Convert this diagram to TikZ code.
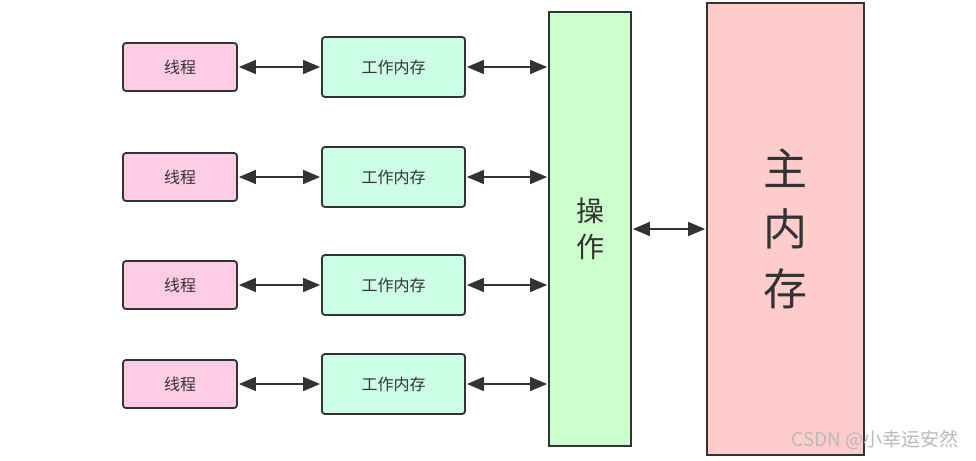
\documentclass[tikz,border=0pt]{standalone}
\usepackage{fontspec}
\setmainfont{Noto Sans CJK SC}
\usetikzlibrary{arrows.meta}
\definecolor{strk}{HTML}{333333}
\definecolor{thr}{HTML}{FFCCE6}
\definecolor{wrk}{HTML}{CCFFE6}
\definecolor{opc}{HTML}{CCFFCC}
\definecolor{mem}{HTML}{FFCCCC}
\begin{document}
\begin{tikzpicture}[x=1pt,y=-1pt,
  box/.style={draw=strk,line width=1.8pt,text=strk,inner sep=0pt},
  thread/.style={box,fill=thr,rounded corners=3pt,minimum width=114pt,minimum height=48pt,font=\fontsize{16}{18}\selectfont},
  work/.style={box,fill=wrk,rounded corners=3pt,minimum width=143pt,minimum height=60pt,font=\fontsize{16}{18}\selectfont},
  conn/.style={line width=1.6pt,draw=strk,{Triangle[length=17pt,width=14pt]}-{Triangle[length=17pt,width=14pt]},shorten <=1pt,shorten >=1pt}]
\useasboundingbox (0,0) rectangle (976,460);
\foreach \i/\y in {1/67,2/177,3/285,4/384}{
  \node[thread] (t\i) at (180,\y) {线程};
  \node[work] (w\i) at (393.5,\y) {工作内存};
}
\node[box,fill=opc,minimum width=82pt,minimum height=434pt,align=center,font=\fontsize{28}{36}\selectfont] (op) at (590,229) {操\\作};
\node[box,fill=mem,minimum width=157pt,minimum height=452pt,align=center,font=\fontsize{44}{60}\selectfont] (mm) at (785.5,229) {主\\内\\存};
\foreach \i/\y in {1/67,2/177,3/285,4/384}{
  \draw[conn] (t\i.east) -- (w\i.west);
  \draw[conn] (w\i.east) -- (op.west |- w\i.east);
}
\draw[conn] (op.east |- 0,229) -- (mm.west |- 0,229);
\node[text=gray!55,font=\fontsize{19}{21}\selectfont,anchor=east] (wm) at (962,440) {CSDN @小幸运安然};
\end{tikzpicture}
\end{document}
